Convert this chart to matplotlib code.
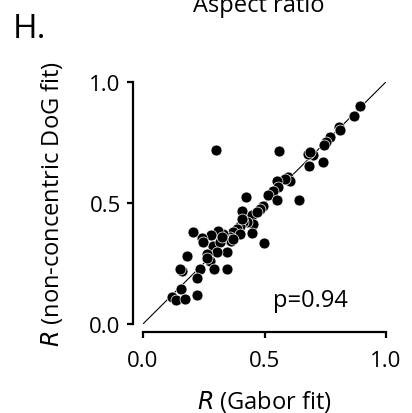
import matplotlib
matplotlib.use("Agg")
import matplotlib.pyplot as plt

plt.rcParams["font.family"] = ["Open Sans", "DejaVu Sans"]

# R values (Gabor fit vs non-concentric DoG fit)
r_gabor = [0.893, 0.870, 0.807, 0.811, 0.770, 0.753, 0.745, 0.742, 0.701, 0.684,
           0.680, 0.687, 0.561, 0.299, 0.595, 0.605, 0.584, 0.550, 0.557, 0.536,
           0.516, 0.550, 0.643, 0.495, 0.481, 0.424, 0.406, 0.447, 0.454, 0.427,
           0.413, 0.447, 0.498, 0.399, 0.385, 0.372, 0.399, 0.358, 0.344, 0.361,
           0.331, 0.310, 0.279, 0.241, 0.204, 0.287, 0.317, 0.344, 0.303, 0.262,
           0.276, 0.265, 0.294, 0.344, 0.235, 0.182, 0.159, 0.152, 0.221, 0.224,
           0.155, 0.118, 0.136, 0.173, 0.406, 0.468, 0.372, 0.324, 0.248]
r_dog = [0.899, 0.858, 0.813, 0.802, 0.771, 0.751, 0.740, 0.668, 0.696, 0.654,
         0.702, 0.709, 0.716, 0.720, 0.606, 0.592, 0.599, 0.592, 0.565, 0.551,
         0.533, 0.510, 0.510, 0.489, 0.475, 0.523, 0.468, 0.448, 0.413, 0.420,
         0.420, 0.376, 0.333, 0.406, 0.393, 0.379, 0.372, 0.358, 0.351, 0.344,
         0.372, 0.386, 0.369, 0.354, 0.379, 0.324, 0.337, 0.296, 0.299, 0.289,
         0.262, 0.273, 0.227, 0.227, 0.227, 0.282, 0.220, 0.227, 0.189, 0.121,
         0.145, 0.110, 0.101, 0.103, 0.434, 0.461, 0.351, 0.358, 0.337]
ticks = [0.0, 0.5, 1.0]
tick_labels = ["0.0", "0.5", "1.0"]

fig = plt.figure(figsize=(4.12, 4.14), dpi=100)
ax = fig.add_axes([0.347, 0.215, 0.590, 0.585])

ax.plot([0, 1], [0, 1], color="black", lw=0.8, zorder=1)
ax.scatter(r_gabor, r_dog, s=62, c="black", edgecolors="white",
           linewidths=0.5, zorder=2, clip_on=False)

ax.set_xlim(0, 1)
ax.set_ylim(0, 1)
ax.set_xticks(ticks)
ax.set_xticklabels(tick_labels)
ax.set_yticks(ticks)
ax.set_yticklabels(tick_labels)

for side in ["top", "right"]:
    ax.spines[side].set_visible(False)
ax.spines["left"].set_position(("outward", 7))
ax.spines["bottom"].set_position(("outward", 6))
ax.spines["left"].set_bounds(0, 1)
ax.spines["bottom"].set_bounds(0, 1)
for side in ["left", "bottom"]:
    ax.spines[side].set_linewidth(1.6)
ax.tick_params(width=1.6, length=4, labelsize=16, color="black")
ax.tick_params(axis="x", pad=9)
ax.tick_params(axis="y", pad=5)

ax.set_xlabel(r"$R$ (Gabor fit)", fontsize=17)
ax.set_ylabel(r"$R$ (non-concentric DoG fit)", fontsize=17)
ax.xaxis.set_label_coords(0.5, -0.265)
ax.yaxis.set_label_coords(-0.32, 0.5)

ax.text(0.687, 0.10, "p=0.94", fontsize=17, ha="center", va="center")

fig.text(0.628, 0.971, "Aspect ratio", fontsize=17, ha="center", va="baseline")
fig.text(0.032, 0.908, "H.", fontsize=24, ha="left", va="baseline")

plt.savefig("out.png", dpi=100)
